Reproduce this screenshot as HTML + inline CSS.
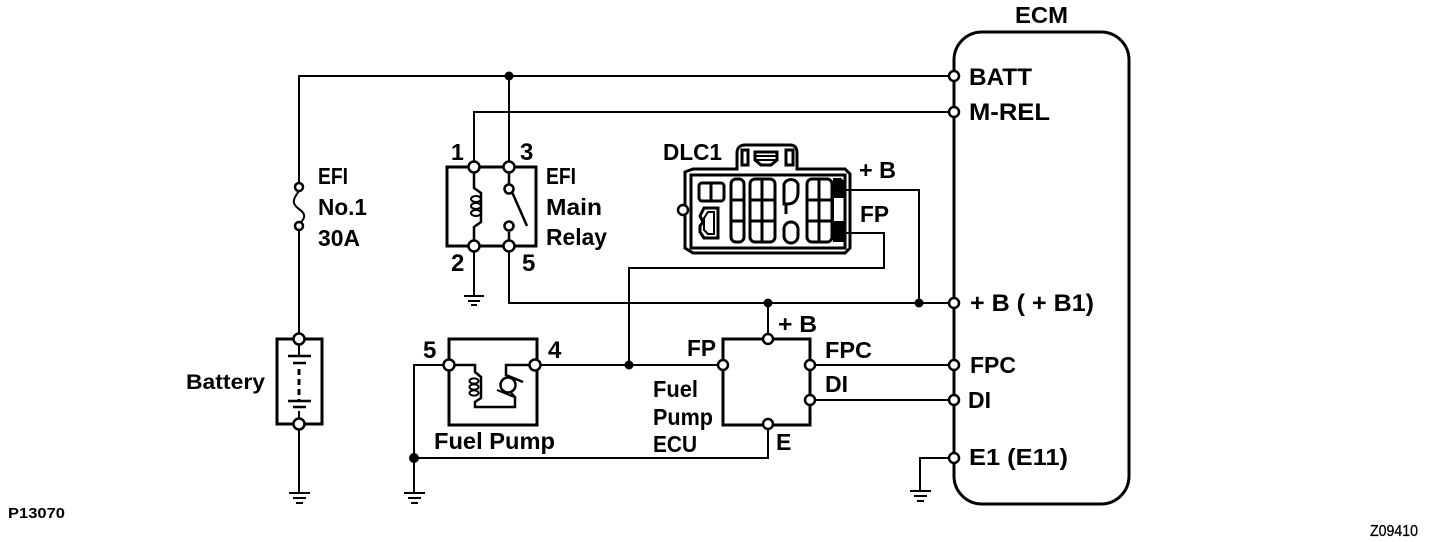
<!DOCTYPE html>
<html><head><meta charset="utf-8"><style>
html,body{margin:0;padding:0;background:#fff;width:1440px;height:542px;overflow:hidden}
svg{display:block}
text{font-family:"Liberation Sans",sans-serif;font-size:23px;font-weight:bold;fill:#000}
.w{fill:none;stroke:#000;stroke-width:2}
.t{fill:none;stroke:#000;stroke-width:3}
.n{fill:#fff;stroke:#000;stroke-width:2.5}
.d{fill:#000}
</style></head><body>
<svg width="1440" height="542" viewBox="0 0 1440 542" xmlns="http://www.w3.org/2000/svg">
<!-- ECM -->
<rect x="954" y="32" width="175" height="472" rx="28" class="t"/>
<!-- main wires -->
<path class="w" d="M954 76H299V187M299 226V339M299 424V492"/>
<path class="w" d="M509 76V167"/>
<path class="w" d="M954 112H474V167"/>
<path class="w" d="M509 246V303H954"/>
<path class="w" d="M474 246V295"/>
<path class="w" d="M846 190H919V303"/>
<path class="w" d="M846 233H884V268H629V365"/>
<path class="w" d="M535 365H723"/>
<path class="w" d="M768 303V339"/>
<path class="w" d="M810 365H954"/>
<path class="w" d="M810 400H954"/>
<path class="w" d="M449 365H414V492"/>
<path class="w" d="M414 458H768V424"/>
<path class="w" d="M954 458H920V490"/>
<!-- fuse -->
<path class="w" d="M299 191C292 200 292 204 299 209C306 214 306 218 299 224"/>
<!-- grounds -->
<path class="w" d="M464 296H484M468 301H480M471 305H477"/>
<path class="w" d="M289 493H310M293 498H306M296 503H303"/>
<path class="w" d="M404 493H425M408 498H421M411 503H418"/>
<path class="w" d="M910 491H931M914 496H927M917 501H924"/>
<!-- relay -->
<rect x="447" y="167" width="89" height="79" class="t"/>
<path class="w" d="M474 173V188L481 193V222L474 227V240" style="stroke-width:2.5"/>
<g class="w"><ellipse cx="476" cy="199" rx="5" ry="3"/><ellipse cx="476" cy="206" rx="5" ry="3"/><ellipse cx="476" cy="213" rx="5" ry="3"/></g>
<path class="w" d="M509 173V184M509 232V240M512 192L527 226" style="stroke-width:2.5"/>
<circle cx="509" cy="189" r="4.5" class="n"/>
<circle cx="509" cy="226" r="4.5" class="n"/>
<!-- battery -->
<rect x="277" y="339" width="45" height="85" class="t"/>
<path class="w" d="M299 345V356M299 411V418"/>
<path class="w" d="M299 369V401" style="stroke-dasharray:6 4;stroke-width:3"/>
<path class="w" d="M288 356H311M293 363H306M288 401H311M293 407H306" style="stroke-width:2.5"/>
<!-- fuel pump -->
<rect x="449" y="339" width="88" height="86" class="t"/>
<path class="w" d="M449 365H475V372L481 377V398L475 402V407H515V397L511 393M535 365H506V375L523 382" style="stroke-width:2.5"/>
<circle cx="508" cy="385" r="7.5" class="w" style="stroke-width:2.5"/>
<g class="w"><ellipse cx="474" cy="381" rx="4.5" ry="2.6"/><ellipse cx="474" cy="387" rx="4.5" ry="2.6"/><ellipse cx="474" cy="393" rx="4.5" ry="2.6"/></g>
<path class="w" d="M497 390L514 397"/>
<!-- fuel pump ECU -->
<rect x="723" y="339" width="87" height="86" class="t"/>
<!-- DLC -->
<path class="t" d="M693 169H737V153C737 148 740 145 745 145H790C795 145 797 148 797 153V169H845L850 174V248L845 253H693L685 248V172Z"/>
<rect x="691" y="175" width="154" height="73" class="w" style="stroke-width:3"/>
<circle cx="683" cy="210" r="5" class="n"/>
<rect x="742" y="150" width="6" height="15" class="t"/>
<rect x="786" y="150" width="7" height="15" class="t"/>
<path class="t" d="M755 152H777V160L771 165H761L755 160Z"/>
<path class="w" d="M755 156H777M755 160H777"/>
<rect x="699" y="183" width="25" height="18" rx="3" class="t"/>
<path class="t" d="M711 183V201"/>
<path class="t" d="M704 208H718V238H704L700 232V226L703 222L700 216Z"/>
<path class="w" d="M708 212H714V234H708L704 230V218Z"/>
<rect x="731" y="179" width="13" height="63" rx="5" class="t"/>
<rect x="750" y="179" width="25" height="63" rx="5" class="t"/>
<path class="t" d="M731 200H744M731 221H744M750 200H775M750 221H775M762 179V242"/>
<path class="t" d="M784 184V204H787C795 204 798 199 798 192V184C795 178 787 178 784 184ZM786 204V214"/>
<rect x="784" y="222" width="14" height="21" rx="7" class="t"/>
<rect x="807" y="179" width="25" height="63" rx="5" class="t"/>
<path class="t" d="M807 200H832M807 221H832M819 179V242"/>
<path class="d" d="M833 178H841L845 182V198H833Z"/>
<rect x="833" y="222" width="12" height="20" class="d"/>
<path class="w" d="M833 198V222H845"/>
<!-- junction dots -->
<g class="d">
<circle cx="509" cy="76" r="4.5"/><circle cx="919" cy="303" r="4.5"/><circle cx="768" cy="303" r="4.5"/>
<circle cx="629" cy="365" r="4.5"/><circle cx="414" cy="458" r="5"/>
</g>
<!-- open nodes -->
<g class="n">
<circle cx="954" cy="76" r="5"/><circle cx="954" cy="112" r="5"/><circle cx="954" cy="303" r="5"/>
<circle cx="954" cy="365" r="5"/><circle cx="954" cy="400" r="5"/><circle cx="954" cy="458" r="5"/>
<circle cx="299" cy="187" r="4"/><circle cx="299" cy="226" r="4"/>
<circle cx="474" cy="167" r="5.5"/><circle cx="509" cy="167" r="5.5"/>
<circle cx="474" cy="246" r="5.5"/><circle cx="509" cy="246" r="5.5"/>
<circle cx="299" cy="339" r="5.5"/><circle cx="299" cy="424" r="5.5"/>
<circle cx="449" cy="365" r="5.5"/><circle cx="535" cy="365" r="5.5"/>
<circle cx="723" cy="365" r="5"/><circle cx="768" cy="339" r="5"/>
<circle cx="810" cy="365" r="5"/><circle cx="810" cy="400" r="5"/><circle cx="768" cy="424" r="5"/>
</g>
<!-- labels -->
<text x="1015" y="23" textLength="53" lengthAdjust="spacingAndGlyphs">ECM</text>
<text x="969" y="85" textLength="63" lengthAdjust="spacingAndGlyphs" style="font-size:24px">BATT</text>
<text x="969" y="120" textLength="81" lengthAdjust="spacingAndGlyphs" style="font-size:24px">M-REL</text>
<text x="970" y="311" textLength="124" lengthAdjust="spacingAndGlyphs" style="font-size:24px">+ B ( + B1)</text>
<text x="970" y="373" textLength="46" lengthAdjust="spacingAndGlyphs">FPC</text>
<text x="968" y="408" textLength="23" lengthAdjust="spacingAndGlyphs">DI</text>
<text x="969" y="465" textLength="99" lengthAdjust="spacingAndGlyphs">E1 (E11)</text>
<text x="318" y="184" textLength="30" lengthAdjust="spacingAndGlyphs">EFI</text>
<text x="318" y="215" textLength="49" lengthAdjust="spacingAndGlyphs">No.1</text>
<text x="318" y="246" textLength="42" lengthAdjust="spacingAndGlyphs">30A</text>
<text x="186" y="389" textLength="79" lengthAdjust="spacingAndGlyphs" style="font-size:21px">Battery</text>
<text x="451" y="160">1</text>
<text x="520" y="160" style="font-size:24px">3</text>
<text x="451" y="271" style="font-size:24px">2</text>
<text x="522" y="271" style="font-size:24px">5</text>
<text x="546" y="184" textLength="30" lengthAdjust="spacingAndGlyphs">EFI</text>
<text x="546" y="215" textLength="56" lengthAdjust="spacingAndGlyphs">Main</text>
<text x="546" y="245" textLength="61" lengthAdjust="spacingAndGlyphs">Relay</text>
<text x="663" y="160" textLength="59" lengthAdjust="spacingAndGlyphs">DLC1</text>
<text x="859" y="178" textLength="37" lengthAdjust="spacingAndGlyphs">+ B</text>
<text x="860" y="222" textLength="29" lengthAdjust="spacingAndGlyphs">FP</text>
<text x="423" y="358" style="font-size:24px">5</text>
<text x="548" y="358" style="font-size:24px">4</text>
<text x="434" y="449" textLength="121" lengthAdjust="spacingAndGlyphs">Fuel Pump</text>
<text x="687" y="356" textLength="29" lengthAdjust="spacingAndGlyphs">FP</text>
<text x="653" y="397" textLength="45" lengthAdjust="spacingAndGlyphs">Fuel</text>
<text x="653" y="425" textLength="60" lengthAdjust="spacingAndGlyphs">Pump</text>
<text x="653" y="452" textLength="44" lengthAdjust="spacingAndGlyphs">ECU</text>
<text x="778" y="332" textLength="39" lengthAdjust="spacingAndGlyphs">+ B</text>
<text x="825" y="358" textLength="47" lengthAdjust="spacingAndGlyphs">FPC</text>
<text x="825" y="392" textLength="23" lengthAdjust="spacingAndGlyphs">DI</text>
<text x="776" y="450">E</text>
<text x="8" y="518" textLength="57" lengthAdjust="spacingAndGlyphs" style="font-size:15px">P13070</text>
<text x="1370" y="536" textLength="48" lengthAdjust="spacingAndGlyphs" style="font-size:16px;font-weight:normal;stroke:#000;stroke-width:.3">Z09410</text>
</svg>
</body></html>
